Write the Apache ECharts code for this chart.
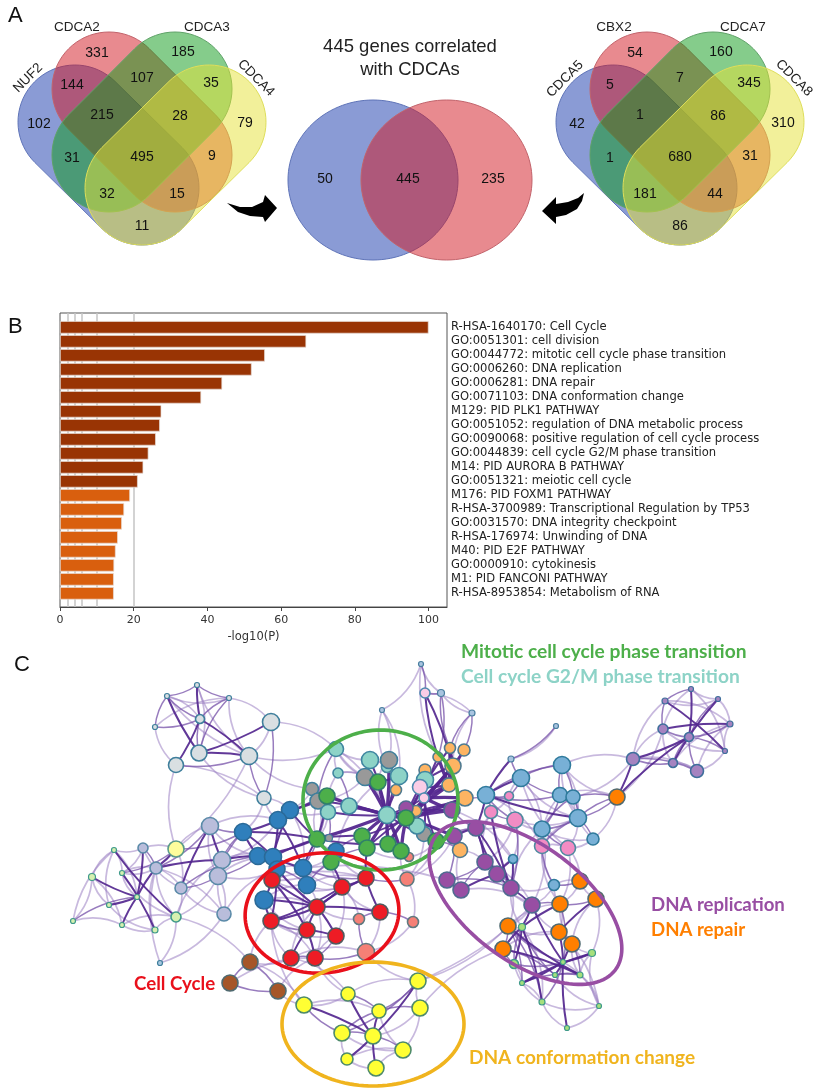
<!DOCTYPE html>
<html>
<head>
<meta charset="utf-8">
<title>CDCA figure</title>
<script src="https://cdn.jsdelivr.net/npm/echarts@6/dist/echarts.min.js"></script>
<style>
  html, body { margin: 0; padding: 0; background: #fff; }
  #chart { width: 818px; height: 1091px; }
</style>
</head>
<body>
<div id="chart"></div>
<script>
// panel A
const leftSets = ['NUF2', 'CDCA2', 'CDCA3', 'CDCA4']
const rightSets = ['CDCA5', 'CBX2', 'CDCA7', 'CDCA8']
const leftCounts = [102, 331, 185, 144, 107, 35, 215, 28, 79, 31, 495, 9, 32, 15, 11]
const rightCounts = [42, 54, 160, 5, 7, 345, 1, 86, 310, 1, 680, 31, 181, 44, 86]
const middleCounts = [50, 445, 235]

// panel B
const termNames = [
  'R-HSA-1640170: Cell Cycle',
  'GO:0051301: cell division',
  'GO:0044772: mitotic cell cycle phase transition',
  'GO:0006260: DNA replication',
  'GO:0006281: DNA repair',
  'GO:0071103: DNA conformation change',
  'M129: PID PLK1 PATHWAY',
  'GO:0051052: regulation of DNA metabolic process',
  'GO:0090068: positive regulation of cell cycle process',
  'GO:0044839: cell cycle G2/M phase transition',
  'M14: PID AURORA B PATHWAY',
  'GO:0051321: meiotic cell cycle',
  'M176: PID FOXM1 PATHWAY',
  'R-HSA-3700989: Transcriptional Regulation by TP53',
  'GO:0031570: DNA integrity checkpoint',
  'R-HSA-176974: Unwinding of DNA',
  'M40: PID E2F PATHWAY',
  'GO:0000910: cytokinesis',
  'M1: PID FANCONI PATHWAY',
  'R-HSA-8953854: Metabolism of RNA'
]
const termLogP = [100, 66.8, 55.6, 52, 44, 38.3, 27.5, 27.1, 26, 24, 22.6, 21.1, 19, 17.4, 16.8, 15.7, 15.1, 14.7, 14.6, 14.6]
const xTicks = [0, 20, 40, 60, 80, 100]
const cutoffLines = [2, 4, 6, 10, 20]

// panel C, nodes are [x, y, diameter]
const backTealNodes = [[387, 767, 10]]
const paleGrayNodes = [[167, 696, 5], [197, 685, 5], [229, 698, 5], [200, 719, 8], [155, 727, 5], [271, 722, 16], [199, 753, 15], [176, 765, 14], [249, 756, 16], [264, 798, 13]]
const periwinkleNodes = [[210, 826, 16], [222, 860, 16], [218, 876, 16], [156, 868, 11], [181, 888, 11], [224, 914, 13], [143, 848, 9]]
const paleYellowNodes = [[176, 849, 15]]
const tinyGreenNodes = [[114, 850, 5], [122, 873, 5], [92, 877, 7], [137, 897, 5], [109, 905, 5], [73, 921, 5], [122, 925, 5], [155, 930, 6], [176, 917, 9]]
const tinyBlueNodes = [[160, 963, 5]]
const topSmallNodes = [[421, 664, 5], [382, 710, 5], [441, 693, 7], [472, 713, 6], [556, 726, 5], [511, 759, 6]]
const darkBlueNodes = [[290, 810, 16], [278, 820, 16], [243, 832, 16], [258, 856, 16], [273, 857, 16], [277, 869, 15], [303, 868, 16], [307, 885, 16], [336, 851, 15], [264, 900, 17]]
const salmonNodes = [[359, 919, 10], [413, 922, 10], [366, 952, 16], [407, 879, 13], [409, 857, 8]]
const brownNodes = [[250, 962, 15], [230, 983, 15], [278, 991, 15]]
const yellowNodes = [[304, 1005, 15], [348, 994, 13], [379, 1011, 13], [418, 981, 15], [420, 1008, 15], [342, 1033, 15], [373, 1036, 15], [347, 1059, 11], [403, 1050, 15], [376, 1068, 15]]
const lightOrangeNodes = [[450, 748, 10], [464, 750, 11], [438, 757, 9], [453, 766, 15], [425, 770, 11], [449, 785, 13], [396, 790, 10], [465, 798, 15], [416, 811, 10], [460, 850, 14]]
const grayNodes = [[389, 760, 16], [365, 777, 16], [312, 789, 12], [318, 801, 15], [347, 808, 7], [424, 834, 14], [329, 838, 7]]
const tealNodes = [[336, 749, 14], [338, 773, 9], [370, 760, 16], [399, 776, 16], [425, 780, 16], [387, 815, 16], [328, 812, 14], [349, 806, 15], [417, 826, 15]]
const palePinkNodes = [[420, 787, 14], [424, 798, 9], [425, 693, 9]]
const purpleNodes = [[406, 808, 13], [452, 810, 15], [454, 836, 15], [476, 828, 15], [485, 862, 15], [447, 880, 15], [461, 890, 15], [497, 874, 15], [511, 888, 15], [532, 905, 15]]
const midBlueNodes = [[562, 765, 16], [521, 778, 16], [486, 795, 16], [560, 795, 14], [573, 797, 13], [578, 818, 16], [542, 829, 15], [593, 839, 11], [513, 859, 8], [554, 885, 10]]
const pinkNodes = [[509, 796, 8], [491, 812, 12], [515, 820, 15], [542, 846, 14], [568, 848, 14]]
const orangeNodes = [[617, 797, 15], [580, 881, 15], [596, 899, 15], [560, 904, 15], [508, 926, 15], [559, 932, 15], [572, 944, 15], [503, 949, 15]]
const paleGreenNodes = [[522, 927, 7], [514, 964, 8], [563, 962, 5], [592, 953, 7], [555, 975, 5], [580, 975, 6], [522, 983, 5], [542, 1002, 6], [599, 1006, 5], [567, 1028, 5]]
const starNodes = [[691, 689, 5], [718, 699, 5], [665, 701, 6], [730, 724, 6], [663, 729, 9], [689, 737, 8], [725, 751, 5], [673, 763, 8], [633, 759, 12], [697, 771, 12]]
const greenNodes = [[327, 796, 15], [378, 782, 15], [406, 818, 15], [317, 839, 15], [362, 836, 15], [367, 848, 15], [388, 844, 15], [401, 851, 15], [436, 841, 15], [331, 862, 15]]
const redNodes = [[272, 880, 15], [317, 907, 15], [342, 887, 15], [366, 878, 15], [380, 912, 15], [271, 921, 15], [307, 930, 15], [336, 936, 15], [291, 958, 15], [315, 958, 15]]

const hubEdges = 't5-g4 t5-g5 t5-g6 t5-g7 t5-g2 t5-g3 t5-q1 t5-g1 t5-q0 t5-g0 t5-t7 g2-m1 g2-o7 g2-m2 g2-g7 g2-o5 g2-o3 g2-g8 g2-g6 p1-o5 p1-m1 p1-o7 p1-o3 o5-o2 o5-o0'

const strongEdges = 'a0-a6 a3-a7 a6-a5 a3-a8 a1-a3 a6-a8 d0-d8 d1-d7 d2-d3 d3-d4 d3-d6 c6-d3 c3-d3 u0-c3 c0-c1 c3-c1 c0-c4 c1-b3 ' +
  't5-t2 t5-t3 t5-q3 t5-t6 t5-g8 t5-o6 t5-p1 t5-m1 t5-o7 ' +
  'g2-t8 g2-q5 g2-g4 g2-g5 g2-p0 g2-t4 g2-o0 g2-o1 ' +
  'p1-o2 p1-g8 p1-q5 p1-t8 o5-o1 o3-o0 t4-o3 p0-o5 g6-g3 g4-g3 g0-g3 g1-t3 q1-g1 p2-o2 p2-o3 ' +
  'b2-b3 b2-b4 b2-b1 b1-b0 b3-b4 b1-b4 b0-b4 b1-b6 b0-g3 b2-g3 b3-g3 b4-g3 b4-b6 b1-g0 b0-q3 b6-g3 ' +
  'r0-r1 r0-b9 r1-r2 r1-r3 r1-r6 r1-r5 r1-b9 r1-b5 r2-r3 r5-b9 r5-b5 r6-r7 r6-r8 r6-r9 r7-r1 r1-r4 r3-r4 r0-r6 r5-r2 r3-g5 r2-g9 ' +
  'y0-y6 y1-y6 y3-y6 y7-y6 y9-y6 y2-y6 ' +
  'm3-m4 m3-m2 m4-m7 m7-m8 m8-m9 m5-m6 m6-m7 m3-m7 m3-m8 l8-m7 l8-m8 l1-l2 l2-m3 l2-l5 l2-j5 i1-m8 ' +
  'f7-h5 f4-h5 h6-h3 h1-h0 f7-h0 h7-h0 h9-h2 h4-h2 h3-h2 h6-h2 h0-f3 f6-h2 f5-h2 m9-h2 m9-h0 f2-f5 ' +
  'n2-n6 n1-n7 n0-n5 n3-n4 n5-n8 f0-n8 f0-n5'

const midEdges = 'a4-a3 a1-a0 a1-a2 a3-a0 a2-a3 a4-a0 a7-a8 a6-a2 a8-a9 a5-a9 a3-a6 ' +
  'd5-d3 d1-u0 c0-c3 u0-b2 c4-b3 c0-b2 c1-b2 c2-b3 c6-c3 c4-c2 c2-b2 ' +
  't0-q3 t1-t7 q2-g0 q3-t6 t6-g0 g3-q6 q6-t6 g9-g5 g9-b8 b7-g9 b7-b5 b6-b7 b5-b3 b8-g4 b6-g0 ' +
  'm1-o7 m2-o9 m2-m3 m1-m3 g8-o9 g8-m2 g8-m3 o7-l2 l2-i1 l2-i0 l1-i0 i1-i2 i2-m8 l0-l3 l0-l4 l3-l4 l3-l6 l4-l6 l5-l6 l5-l4 l6-i3 l6-i4 l5-l7 i3-l9 i3-l5 ' +
  'm5-m4 m6-m4 m5-m2 m4-m8 m8-m5 m7-l8 l9-f1 ' +
  'f4-h6 f7-h1 f7-h4 h0-h1 f4-h7 h1-h2 h4-h5 h0-h4 h6-h5 h5-f6 f4-f7 f3-f2 m9-f3 f4-h2 f3-h2 h7-h2 ' +
  's2-r9 s0-s2 s0-r4 r3-s3 r4-s1 r9-r7 r8-r9 r5-r6 r3-b6 w0-w1 w0-w2 w1-w2 ' +
  'y1-y2 y2-y3 y5-y2 y0-y5 y5-y6 y8-y6 y3-y5 y4-y2 ' +
  'n2-n0 n4-n5 n9-n5 n8-n7 n8-n9 n5-n3 n5-n6 n5-n7 n4-n2 n1-n5 ' +
  'j0-p2 p2-j2 j2-o2 j2-o0 j3-o1 j3-o0 l1-j5 j5-j4 l3-l2 l1-l3 l1-l0 f0-l4 f0-l5 l0-l2 l5-f0 l2-i2'

const faintEdges = 'a0-a8 a1-a6 a1-a8 a2-a5 a2-a8 a4-a2 a4-a7 a5-a8 a6-a9 a7-a9 a0-a2 a0-a3 a8-q2 a5-t0 a8-t0 a9-b0 a9-b1 a9-b2 a7-u0 a8-u0 ' +
  'd0-c6 c6-u0 d0-d2 d2-d5 d0-d5 d5-d6 d6-d7 d7-d8 d4-d7 d2-d6 d2-d4 d0-d1 d1-c3 c2-c5 c1-c5 c3-c5 c4-c5 d8-w0 e0-c5 e0-c3 e0-d8 c3-c4 c3-d8 c4-d8 c0-u0 ' +
  'c1-b4 c0-b3 c2-b4 c2-b5 c5-b5 c0-c2 c1-c2 c1-d8 c2-d8 c3-d1 c6-d1 c6-c4 u0-c4 d1-d3 d0-d3 d0-d4 d7-c3 d1-d8 d6-d8 c1-b1 c0-b1 ' +
  't0-t1 t1-q1 t0-q1 t0-t5 t0-g1 t1-g1 t1-t6 q2-b0 b0-t6 b8-g3 g3-q3 t6-g3 g5-s4 g7-s4 g7-s3 g8-s3 s3-q5 g0-t7 g0-t6 q2-t6 t7-t6 t7-q4 t2-q0 t2-t3 q0-g1 ' +
  'j0-j1 j0-o2 p2-j3 j2-j3 j1-q0 j1-k0 j1-t3 j0-j2 j4-j5 j3-o3 ' +
  'b0-b6 b6-b8 b5-b6 b7-b9 b5-r0 b6-r2 b7-r1 b7-r2 b7-r3 b9-r6 b9-r1 r0-r2 r0-r3 r5-r7 r5-r9 r7-r9 r6-b7 r2-r4 r2-r7 r1-r8 r1-r9 g9-r2 g9-r0 b8-r3 ' +
  'm1-l8 o9-m6 o9-m4 m5-b6 m2-s3 i1-l8 i0-l1 i2-l6 i2-l8 i4-l7 i4-f1 i3-f3 i4-f3 l6-l7 l9-m8 l9-f3 l9-m9 l4-l7 f0-l7 f0-l3 f0-l0 f0-n4 n8-l4 n8-l0 n8-n4 f1-f2 f1-f3 f1-l9 m6-m9 m8-h0 m8-f4 ' +
  'l6-m8 l6-m9 l6-l9 l5-i4 l5-i3 i3-i4 i3-l2 i4-l1 i2-l5 l1-l6 l1-l5 l0-l5 l3-i3 i0-i1 i0-i2 i1-m3 i1-m4 i2-m4 m3-i2 m4-m9 m7-m9 m9-f4 m9-f5 f3-f5 f3-f6 f5-f6 f2-f6 h0-f4 f4-f5 f7-f5 f3-f4 ' +
  'h0-h7 h1-h7 h2-h8 h3-h8 h5-h8 h4-h8 h6-h7 h7-h8 h8-h9 h7-h9 h1-h6 h3-h5 f5-h8 f6-h3 f2-h3 f6-h5 ' +
  'w2-r9 w0-r8 w1-r9 w2-y0 w0-y0 r5-y0 r8-y1 r9-y1 w0-r5 s2-y3 s1-s2 s1-s3 r4-s2 r5-r8 r8-s2 ' +
  'y0-y1 y1-y3 y3-y4 y4-y8 y7-y9 y0-y2 y5-y8 y9-y8 y5-y7 y7-y8 y2-y8 y4-y6 y3-m9 y4-f7 y3-f4 ' +
  'n4-n0 n0-n1 n1-n3 n3-n6 n6-n9 n9-n7 n7-n4 n2-n1 n2-n3 n4-n6 n8-n2 n9-n8 n0-n6 n3-n9 n7-n3 ' +
  's0-r2 s0-r1 s4-g8 l4-l5 l0-l5 l3-l5 g1-b8 t2-t0 q0-t3 q1-q3 q3-g3 q2-q3'

const ringList = [[380.5, 800, 77.5, 70, 0], [322, 913, 77, 60, -5], [525.5, 903, 112, 58, 36.6], [373, 1024, 91, 62, 0]]

const venn4Ends = [[75, 122, 142, 188], [109, 89, 175, 155], [175, 89, 109, 155], [209, 122, 142, 188]]
const venn4Radius = 57
const venn4Spots = [[39, 124], [97, 53], [183, 52], [72, 85], [142, 78], [211, 83], [102, 115], [180, 116], [245, 123], [72, 158], [142, 157], [212, 156], [107, 194], [177, 194], [142, 226]]
const venn2Ovals = [[373, 180, 85, 80], [446.5, 180, 85.5, 80]]
const venn2Spots = [[325, 179], [408, 179], [493, 179]]
const rightShift = 538

const vennColors = ['rgba(21,55,171,0.5)', 'rgba(209,21,31,0.5)', 'rgba(11,153,23,0.5)', 'rgba(229,225,53,0.5)']
const vennEdges = ['#5f74b8', '#c2636b', '#5fa268', '#dede5a']

const nodeStyles = [
  ['k', backTealNodes, '#8dd3c7', '#4a8aa0'],
  ['a', paleGrayNodes, '#d9dfe2', '#3f7f9c'],
  ['c', periwinkleNodes, '#b9bddb', '#5a8aa8'],
  ['u', paleYellowNodes, '#fdfd9c', '#5a9a8a'],
  ['d', tinyGreenNodes, '#d6f0b0', '#3f9a8a'],
  ['e', tinyBlueNodes, '#a8c8e0', '#3f7f9c'],
  ['j', topSmallNodes, '#a9c4e0', '#4a7fa0'],
  ['b', darkBlueNodes, '#2f7fbc', '#2b6a98'],
  ['s', salmonNodes, '#f58076', '#5f7a80'],
  ['w', brownNodes, '#a65628', '#4f6a70'],
  ['y', yellowNodes, '#ffff33', '#4d8a6a'],
  ['o', lightOrangeNodes, '#fdb462', '#4f7a90'],
  ['q', grayNodes, '#999999', '#3f7f9c'],
  ['t', tealNodes, '#8dd3c7', '#3f86a0'],
  ['p', palePinkNodes, '#fbcde6', '#4f8ab0'],
  ['m', purpleNodes, '#984ea3', '#4f6a90'],
  ['l', midBlueNodes, '#78b0d6', '#2f7a9c'],
  ['i', pinkNodes, '#f28cc4', '#4f8aa0'],
  ['f', orangeNodes, '#ff7f00', '#4f6a70'],
  ['h', paleGreenNodes, '#a6e07c', '#3f9a8a'],
  ['n', starNodes, '#a583c0', '#3f6f9c'],
  ['g', greenNodes, '#4daf4a', '#2f7f6a'],
  ['r', redNodes, '#ee1c25', '#505a5f']
]

const graphNodes = []
const nodeSpot = {}
nodeStyles.forEach(group => {
  group[1].forEach((n, i) => {
    nodeSpot[group[0] + i] = n
    graphNodes.push({
      name: group[0] + i,
      value: [n[0], n[1]],
      symbolSize: n[2] < 8 ? n[2] : n[2] + 1,
      itemStyle: { color: group[2], borderColor: group[3], borderWidth: n[2] < 8 ? 1.2 : 1.6 }
    })
  })
})

function edgeLinks(text, color, width, opacity, bend) {
  return text.split(' ').map((pair, i) => {
    const ends = pair.split('-')
    const a = nodeSpot[ends[0]]
    const b = nodeSpot[ends[1]]
    // long links should not bow out too far
    const len = Math.hypot(a[0] - b[0], a[1] - b[1]) || 1
    const c = Math.min(bend, 15 / len)
    return {
      source: ends[0],
      target: ends[1],
      lineStyle: { color: color, width: width, opacity: opacity, curveness: (i % 2 ? c : -c) }
    }
  })
}

const graphLinks = []
  .concat(edgeLinks(faintEdges, '#9b80c2', 1.7, 0.55, 0.2))
  .concat(edgeLinks(midEdges, '#7650a8', 1.5, 0.75, 0.14))
  .concat(edgeLinks(strongEdges, '#54278f', 2, 0.92, 0.06))
  .concat(edgeLinks(hubEdges, '#54278f', 3.4, 0.95, 0.03))

function capsulePoints(x1, y1, x2, y2, r) {
  const pts = []
  const a = Math.atan2(y2 - y1, x2 - x1)
  for (let i = 0; i <= 36; i++) {
    const t = a + Math.PI / 2 + Math.PI * i / 36
    pts.push([x1 + r * Math.cos(t), y1 + r * Math.sin(t)])
  }
  for (let i = 0; i <= 36; i++) {
    const t = a - Math.PI / 2 + Math.PI * i / 36
    pts.push([x2 + r * Math.cos(t), y2 + r * Math.sin(t)])
  }
  return pts
}

function ovalPoints(cx, cy, rx, ry, tilt) {
  const pts = []
  const c = Math.cos(tilt * Math.PI / 180)
  const s = Math.sin(tilt * Math.PI / 180)
  for (let i = 0; i < 120; i++) {
    const t = Math.PI * 2 * i / 120
    const px = rx * Math.cos(t)
    const py = ry * Math.sin(t)
    pts.push([cx + px * c - py * s, cy + px * s + py * c])
  }
  return pts
}

const capsuleData = venn4Ends.map((e, i) => [e[0], e[1], e[2], e[3], i])
  .concat(venn4Ends.map((e, i) => [e[0] + rightShift, e[1], e[2] + rightShift, e[3], i]))
const ovalData = venn2Ovals.map((o, i) => [o[0], o[1], o[2], o[3], i])
const countData = leftCounts.map((v, i) => [venn4Spots[i][0], venn4Spots[i][1], v])
  .concat(rightCounts.map((v, i) => [venn4Spots[i][0] + rightShift, venn4Spots[i][1], v]))
  .concat(middleCounts.map((v, i) => [venn2Spots[i][0], venn2Spots[i][1], v]))

const sansFont = '"Liberation Sans", Arial, sans-serif'
const plotFont = '"DejaVu Sans", sans-serif'
const noteFont = 'Lato, "Open Sans", sans-serif'

function sideLabel(text, x, y, rotation) {
  return {
    type: 'text', x: x, y: y, rotation: rotation,
    style: { text: text, fontFamily: sansFont, fontSize: 13.5, fill: '#222', align: 'center', verticalAlign: 'middle' }
  }
}
function plainText(text, x, y, size, color, family, weight, align) {
  return {
    type: 'text', x: x, y: y,
    style: { text: text, fontFamily: family, fontSize: size, fontWeight: weight || 'normal', fill: color, align: align || 'left', verticalAlign: 'middle' }
  }
}

const myChart = echarts.init(document.getElementById('chart'), null, { renderer: 'canvas' })
myChart.setOption({
  backgroundColor: '#fff',
  animation: false,
  grid: [
    { left: 60, top: 313, width: 387, height: 294, show: true, backgroundColor: 'transparent', borderColor: '#555', borderWidth: 1 },
    { left: 60, top: 320.3, width: 387, height: 280 },
    { left: 0, top: 0, width: 818, height: 1091 }
  ],
  xAxis: [
    {
      gridIndex: 0, type: 'value', min: 0, max: 105,
      name: '-log10(P)', nameLocation: 'middle', nameGap: 24,
      nameTextStyle: { fontFamily: plotFont, fontSize: 11.5, color: '#333' },
      axisLine: { lineStyle: { color: '#444' } },
      axisTick: { show: true, length: 4, lineStyle: { color: '#444' }, customValues: xTicks },
      axisLabel: { fontFamily: plotFont, fontSize: 11, color: '#333', margin: 8, customValues: xTicks },
      splitLine: { show: false }
    },
    { gridIndex: 1, type: 'value', min: 0, max: 105, show: false, splitLine: { show: false } },
    { gridIndex: 2, type: 'value', min: 0, max: 818, show: false, splitLine: { show: false } }
  ],
  yAxis: [
    { gridIndex: 0, type: 'value', min: 0, max: 1, show: false, splitLine: { show: false } },
    {
      gridIndex: 1, type: 'category', data: termNames, inverse: true, position: 'right',
      axisLine: { show: false },
      axisTick: { show: false },
      axisLabel: { fontFamily: plotFont, fontSize: 11.55, color: '#222', margin: 4, interval: 0 }
    },
    { gridIndex: 2, type: 'value', min: 0, max: 1091, inverse: true, show: false, splitLine: { show: false } }
  ],
  series: [
    {
      // p-value cut off lines behind the bars
      type: 'line', xAxisIndex: 0, yAxisIndex: 0, data: [], silent: true,
      markLine: {
        silent: true, symbol: 'none', z: 1, animation: false,
        label: { show: false },
        lineStyle: { color: '#c4c4c4', width: 1.5, type: 'solid' },
        data: cutoffLines.map(v => ({ xAxis: v }))
      }
    },
    {
      type: 'bar', xAxisIndex: 1, yAxisIndex: 1, data: termLogP, barWidth: 12.5, z: 6, silent: true,
      itemStyle: {
        color: p => (p.value >= 20 ? '#993404' : '#d95f0e'),
        borderColor: '#e8e0da', borderWidth: 0.7
      }
    },
    {
      // venn shapes
      type: 'custom', xAxisIndex: 2, yAxisIndex: 2, data: capsuleData, silent: true, clip: false, z: 2,
      encode: { x: [0, 2], y: [1, 3] },
      renderItem: (params, api) => {
        const a = api.coord([api.value(0), api.value(1)])
        const b = api.coord([api.value(2), api.value(3)])
        const r = api.size([venn4Radius, 0])[0]
        const k = api.value(4)
        return {
          type: 'polygon',
          shape: { points: capsulePoints(a[0], a[1], b[0], b[1], r) },
          style: { fill: vennColors[k], stroke: vennEdges[k], lineWidth: 1 }
        }
      }
    },
    {
      type: 'custom', xAxisIndex: 2, yAxisIndex: 2, data: ovalData, silent: true, clip: false, z: 2,
      encode: { x: 0, y: 1 },
      renderItem: (params, api) => {
        const c = api.coord([api.value(0), api.value(1)])
        const k = api.value(4)
        return {
          type: 'polygon',
          shape: { points: ovalPoints(c[0], c[1], api.value(2), api.value(3), 0) },
          style: { fill: vennColors[k], stroke: vennEdges[k], lineWidth: 1 }
        }
      }
    },
    {
      type: 'custom', xAxisIndex: 2, yAxisIndex: 2, data: countData, silent: true, clip: false, z: 4,
      encode: { x: 0, y: 1 },
      renderItem: (params, api) => {
        const c = api.coord([api.value(0), api.value(1)])
        return {
          type: 'text', x: c[0], y: c[1],
          style: { text: String(api.value(2)), fontFamily: sansFont, fontSize: 14, fill: '#111', align: 'center', verticalAlign: 'middle' }
        }
      }
    },
    {
      // gene set network
      type: 'graph', coordinateSystem: 'cartesian2d', xAxisIndex: 2, yAxisIndex: 2, layout: 'none',
      silent: true, roam: false, z: 3,
      data: graphNodes, links: graphLinks, label: { show: false }, edgeSymbol: ['none', 'none']
    },
    {
      // cluster rings sit on top of the nodes
      type: 'custom', xAxisIndex: 2, yAxisIndex: 2, data: ringList, silent: true, clip: false, z: 8,
      encode: { x: 0, y: 1 },
      renderItem: (params, api) => {
        const c = api.coord([api.value(0), api.value(1)])
        return {
          type: 'polygon',
          shape: { points: ovalPoints(c[0], c[1], api.value(2), api.value(3), api.value(4)) },
          style: { fill: 'none', stroke: ['#4daf4a', '#e9101b', '#984ea3', '#f0b41e'][params.dataIndex], lineWidth: 3.6 }
        }
      }
    }
  ],
  graphic: [
    plainText('A', 8, 16, 22, '#111', sansFont),
    plainText('B', 8, 327, 22, '#111', sansFont),
    plainText('C', 14, 665, 22, '#111', sansFont),
    plainText('445 genes correlated', 410, 47, 18.5, '#222', sansFont, 'normal', 'center'),
    plainText('with CDCAs', 410, 70, 18.5, '#222', sansFont, 'normal', 'center'),
    sideLabel(leftSets[0], 28, 78, Math.PI / 4),
    sideLabel(leftSets[1], 77, 27, 0),
    sideLabel(leftSets[2], 207, 27, 0),
    sideLabel(leftSets[3], 256, 78, -Math.PI / 4),
    sideLabel(rightSets[0], 565, 79, Math.PI / 4),
    sideLabel(rightSets[1], 614, 27, 0),
    sideLabel(rightSets[2], 743, 27, 0),
    sideLabel(rightSets[3], 794, 78, -Math.PI / 4),
    {
      type: 'polygon',
      shape: { points: [[227, 203], [240, 207], [252, 207], [263, 202], [265, 195], [277, 208], [265, 222], [263, 217], [250, 216], [238, 212]] },
      style: { fill: '#000' }
    },
    {
      type: 'polygon',
      shape: { points: [[584, 193], [578, 198], [568, 202], [556, 204], [556, 197], [542, 211], [556, 224], [556, 217], [566, 215], [577, 209], [582, 201]] },
      style: { fill: '#000' }
    },
    plainText('Mitotic cell cycle phase transition', 461, 652, 19.2, '#4daf4a', noteFont, 'bold'),
    plainText('Cell cycle G2/M phase transition', 461, 677, 19.2, '#8dd3c7', noteFont, 'bold'),
    plainText('DNA replication', 651, 905, 18.6, '#984ea3', noteFont, 'bold'),
    plainText('DNA repair', 651, 930, 18.6, '#ff7f00', noteFont, 'bold'),
    plainText('Cell Cycle', 134, 984, 18.7, '#e9101b', noteFont, 'bold'),
    plainText('DNA conformation change', 469, 1058, 19, '#f0b41e', noteFont, 'bold')
  ]
})
</script>
</body>
</html>
